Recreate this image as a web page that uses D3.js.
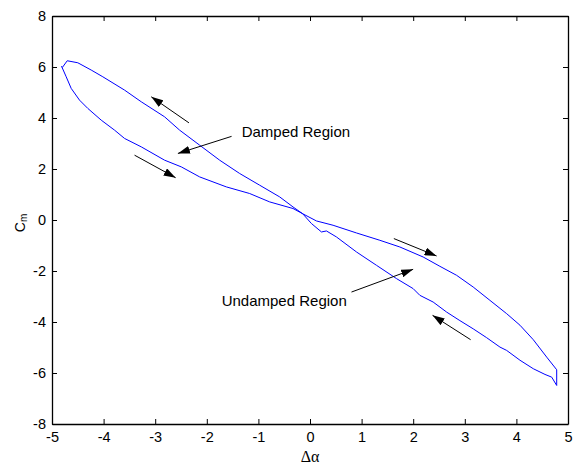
<!DOCTYPE html>
<html>
<head>
<meta charset="utf-8">
<script src="https://cdn.jsdelivr.net/npm/d3@7"></script>
<style>
  body { margin: 0; background: #fff; }
  text { font-family: "Liberation Sans", Arial, sans-serif; fill: #000; }
</style>
</head>
<body>
<div id="chart-container"></div>
<script>
// hysteresis loop (path order: tip -> lower left -> upper right -> drop -> lower right -> upper left)
const alphaVals = [-4.816, -4.725, -4.628, -4.467, -4.306, -4.046, -3.788, -3.594, -3.270, -2.818, -2.494,
  -2.139, -1.621, -1.169, -0.781, -0.329, -0.141,
  0.125, 0.447, 0.901, 1.353, 1.741, 2.193, 2.517, 2.841, 3.163, 3.487, 3.811, 4.069, 4.327, 4.587, 4.781, 4.781,
  4.684, 4.554, 4.327, 4.069, 3.811, 3.681, 3.423, 3.163, 2.905, 2.647, 2.387, 2.129, 1.999, 1.677, 1.289, 0.901, 0.513, 0.319, 0.222, 0.028, -0.141,
  -0.329, -0.587, -0.975, -1.363, -1.751, -2.139, -2.527, -2.818, -3.270, -3.594, -4.015, -4.240, -4.500, -4.705, -4.800];
const cmVals = [6.036, 5.616, 5.161, 4.701, 4.376, 3.916, 3.524, 3.198, 2.868, 2.346, 2.083,
  1.690, 1.298, 1.038, 0.709, 0.450, 0.245,
  -0.037, -0.206, -0.508, -0.795, -1.058, -1.451, -1.816, -2.169, -2.629, -3.151, -3.673, -4.126, -4.694, -5.377, -5.872, -6.488,
  -6.162, -6.056, -5.832, -5.499, -5.114, -4.984, -4.615, -4.268, -3.946, -3.610, -3.218, -2.954, -2.691, -2.299, -1.777, -1.254, -0.665, -0.430, -0.469, -0.139, 0.245,
  0.512, 0.905, 1.364, 1.824, 2.346, 2.935, 3.524, 4.046, 4.635, 5.094, 5.616, 5.880, 6.166, 6.245, 5.980];

const xTicks = [-5, -4, -3, -2, -1, 0, 1, 2, 3, 4, 5];
const yTicks = [-8, -6, -4, -2, 0, 2, 4, 6, 8];

// arrows: [x1, y1, x2, y2] in data units, head at (x2, y2)
const arrowLines = [
  [-2.346, 3.810, -3.076, 4.831],
  [-3.400, 2.542, -2.604, 1.659],
  [-1.520, 3.280, -2.560, 2.610],
  [1.625, -0.728, 2.453, -1.411],
  [0.804, -2.825, 1.999, -1.934],
  [3.113, -4.694, 2.375, -3.740]
];
const noteText = ["Damped Region", "Undamped Region"];
const noteX = [-1.324, -1.712];
const noteY = [3.249, -3.386];

const width = 581;
const height = 468;
const margin = { top: 16, right: 13, bottom: 44, left: 52 };

const svg = d3.select("#chart-container").append("svg")
  .attr("width", width)
  .attr("height", height);

const x = d3.scaleLinear().domain([-5, 5]).range([margin.left, width - margin.right]);
const y = d3.scaleLinear().domain([-8, 8]).range([height - margin.bottom, margin.top]);

// arrow head
svg.append("defs").append("marker")
  .attr("id", "head")
  .attr("viewBox", "0 0 12 8")
  .attr("refX", 12)
  .attr("refY", 4)
  .attr("markerWidth", 12)
  .attr("markerHeight", 8)
  .attr("markerUnits", "userSpaceOnUse")
  .attr("orient", "auto")
  .append("path")
    .attr("d", "M0,0 L12,4 L0,8 Z")
    .attr("fill", "#000");

// the loop
const pts = alphaVals.map((a, i) => [a, cmVals[i]]);
svg.append("path")
  .datum(pts)
  .attr("fill", "none")
  .attr("stroke", "#0000ff")
  .attr("stroke-width", 1)
  .attr("d", d3.line().x(d => x(d[0])).y(d => y(d[1])));

// axes box with inward ticks (all four sides)
const tickLen = 5;
const axisG = svg.append("g").attr("class", "axes");
axisG.append("g")
  .attr("transform", `translate(0,${y(-8)})`)
  .call(d3.axisBottom(x).tickValues(xTicks).tickSizeInner(-tickLen).tickSizeOuter(0).tickPadding(8));
axisG.append("g")
  .attr("transform", `translate(0,${y(8)})`)
  .call(d3.axisTop(x).tickValues(xTicks).tickSizeInner(-tickLen).tickSizeOuter(0).tickFormat(""));
axisG.append("g")
  .attr("transform", `translate(${x(-5)},0)`)
  .call(d3.axisLeft(y).tickValues(yTicks).tickSizeInner(-tickLen).tickSizeOuter(0).tickPadding(6));
axisG.append("g")
  .attr("transform", `translate(${x(5)},0)`)
  .call(d3.axisRight(y).tickValues(yTicks).tickSizeInner(-tickLen).tickSizeOuter(0).tickFormat(""));

axisG.selectAll(".domain").attr("stroke", "#000").attr("stroke-width", 1.3);
axisG.selectAll(".tick line").attr("stroke", "#000");
axisG.selectAll(".tick text")
  .style("font-family", "'Liberation Sans', Arial, sans-serif")
  .style("font-size", "14.5px")
  .attr("fill", "#000");
// MATLAB style minus sign
axisG.selectAll(".tick text").text(function() { return this.textContent.replace("\u2212", "-"); });

// arrows
svg.append("g")
  .selectAll("line")
  .data(arrowLines)
  .enter().append("line")
    .attr("x1", d => x(d[0]))
    .attr("y1", d => y(d[1]))
    .attr("x2", d => x(d[2]))
    .attr("y2", d => y(d[3]))
    .attr("stroke", "#000")
    .attr("stroke-width", 1)
    .attr("marker-end", "url(#head)");

// region notes
svg.append("g")
  .selectAll("text")
  .data(noteText)
  .enter().append("text")
    .attr("x", (d, i) => x(noteX[i]))
    .attr("y", (d, i) => y(noteY[i]))
    .style("font-size", "15px")
    .text(d => d);

// axis labels
svg.append("text")
  .attr("x", x(0))
  .attr("y", 462)
  .attr("text-anchor", "middle")
  .style("font-family", "'Liberation Serif', 'Times New Roman', serif")
  .style("font-size", "16px")
  .text("\u0394\u03b1");

const cmLabel = svg.append("text")
  .attr("transform", `translate(25,${y(0) + 3}) rotate(-90)`)
  .attr("text-anchor", "middle")
  .style("font-size", "14px");
cmLabel.append("tspan").text("C");
cmLabel.append("tspan").attr("dy", 2).style("font-size", "10px").text("m");
</script>
</body>
</html>
